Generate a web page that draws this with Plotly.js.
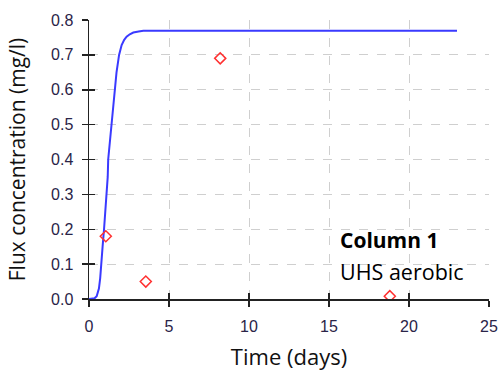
<!DOCTYPE html>
<html>
<head>
<meta charset="utf-8">
<script src="https://cdn.plot.ly/plotly-3.0.1.min.js"></script>
<style>html,body{margin:0;padding:0;background:#fff;}#chart{width:500px;height:374px;}</style>
</head>
<body>
<div id="chart"></div>
<script>
// Model curve (blue line)
var modelTime = [0, 0.2, 0.35, 0.48, 0.55, 0.62, 0.7, 0.75, 0.85, 0.94, 1.03, 1.125, 1.17, 1.2, 1.3, 1.375, 1.48, 1.58, 1.72, 1.88, 2.04, 2.2, 2.35, 2.55, 2.77, 3.1, 3.4, 23];
var modelConc = [0, 0, 0.002, 0.008, 0.018, 0.03, 0.06, 0.1, 0.15, 0.2, 0.25, 0.3, 0.35, 0.4, 0.45, 0.5, 0.55, 0.6, 0.65, 0.7, 0.728, 0.743, 0.752, 0.759, 0.764, 0.767, 0.769, 0.769];
// Measured data (red diamonds)
var measTime = [1.05, 3.55, 8.2, 18.8];
var measConc = [0.18, 0.05, 0.69, 0.008];
var xTicks = [0, 5, 10, 15, 20, 25];
var yTicks = [0, 0.1, 0.2, 0.3, 0.4, 0.5, 0.6, 0.7, 0.8];
var yTickText = ['0.0','0.1','0.2','0.3','0.4','0.5','0.6','0.7','0.8'];

var traces = [
  {x: modelTime, y: modelConc, type: 'scatter', mode: 'lines',
   line: {color: '#3a3aff', width: 2}, hoverinfo: 'skip'},
  {x: measTime, y: measConc, type: 'scatter', mode: 'markers',
   marker: {symbol: 'diamond-open', size: 8.5, color: '#ff3030', line: {width: 1.5, color: '#ff3030'}}},
  {x: [0], y: [0], xaxis: 'x2', yaxis: 'y2', type: 'scatter', mode: 'markers',
   marker: {opacity: 0}, hoverinfo: 'skip'}
];

var tickFont = {family: 'Liberation Sans, Arial, sans-serif', size: 16, color: '#2a2448'};

var layout = {
  width: 500, height: 374,
  margin: {l: 89, r: 11, t: 20, b: 75},
  paper_bgcolor: '#fff', plot_bgcolor: '#fff',
  showlegend: false,
  xaxis: {
    range: [0, 25], tickvals: xTicks, ticktext: xTicks.map(String),
    showgrid: true, gridcolor: '#cfcfcf', griddash: 'dash', gridwidth: 1,
    zeroline: false, showline: true, linecolor: '#222', linewidth: 1.5,
    ticks: 'outside', ticklen: 6, tickwidth: 1.5, tickcolor: '#222',
    tickfont: tickFont, ticklabelstandoff: 6,
    title: {text: 'Time (days)', font: {family: 'Open Sans, sans-serif', size: 22, color: '#111'}, standoff: 16}
  },
  yaxis: {
    range: [0, 0.8], tickvals: yTicks, ticktext: yTickText,
    showgrid: true, gridcolor: '#cfcfcf', griddash: 'dash', gridwidth: 1,
    zeroline: false, showline: true, linecolor: '#222', linewidth: 1.5,
    ticks: 'outside', ticklen: 6, tickwidth: 1.5, tickcolor: '#222',
    tickfont: tickFont, ticklabelstandoff: 5,
    title: {text: 'Flux concentration (mg/l)', font: {family: 'Open Sans, sans-serif', size: 21, color: '#111'}, standoff: 19}
  },
  xaxis2: {
    overlaying: 'x', range: [0, 25], tickvals: xTicks, showticklabels: false,
    showgrid: false, zeroline: false, showline: false,
    ticks: 'inside', ticklen: 6, tickwidth: 1.5, tickcolor: '#222', side: 'bottom'
  },
  yaxis2: {
    overlaying: 'y', range: [0, 0.8], tickvals: yTicks, showticklabels: false,
    showgrid: false, zeroline: false, showline: false,
    ticks: 'inside', ticklen: 6, tickwidth: 1.5, tickcolor: '#222', side: 'left'
  },
  annotations: [
    {xref: 'paper', yref: 'paper', x: (338-89)/400, y: (299-240)/279, xanchor: 'left', yanchor: 'middle',
     text: '<b>Column 1</b>', showarrow: false,
     font: {family: 'Open Sans, sans-serif', size: 21, color: '#000'}},
    {xref: 'paper', yref: 'paper', x: (338-89)/400, y: (299-271)/279, xanchor: 'left', yanchor: 'middle',
     text: 'UHS aerobic', showarrow: false,
     font: {family: 'Open Sans, sans-serif', size: 21.5, color: '#000'}}
  ]
};

Plotly.newPlot('chart', traces, layout, {displayModeBar: false, staticPlot: true});
</script>
</body>
</html>
